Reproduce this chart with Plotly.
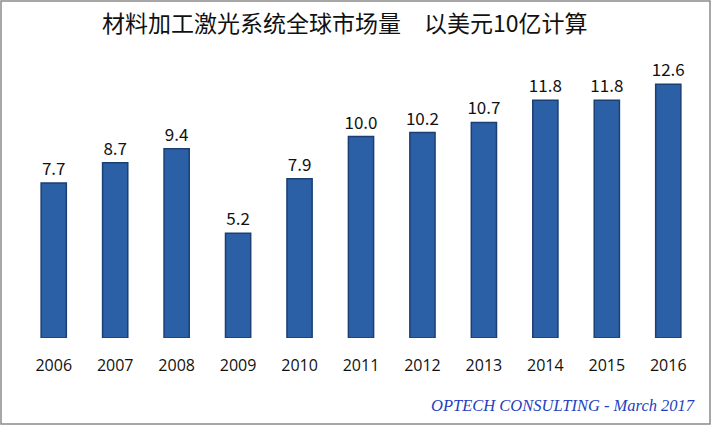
import plotly.graph_objects as go

years = ["2006","2007","2008","2009","2010","2011","2012","2013","2014","2015","2016"]
values = [7.7, 8.7, 9.4, 5.2, 7.9, 10.0, 10.2, 10.7, 11.8, 11.8, 12.6]
title = "材料加工激光系统全球市场量　以美元10亿计算"
source = "OPTECH CONSULTING - March 2017"

fig = go.Figure(go.Bar(
    x=years, y=values, width=0.41,
    marker=dict(color="#2C60A6", line=dict(color="#1B3F73", width=1.5)),
    text=[f"{v:.1f}" for v in values], textposition="outside",
    textfont=dict(size=17, color="#111", family="Noto Sans CJK SC"),
    cliponaxis=False,
))
fig.update_layout(
    width=712, height=426,
    margin=dict(l=23, r=13, t=60, b=88),
    plot_bgcolor="white", paper_bgcolor="white",
    showlegend=False,
    uniformtext=dict(minsize=17, mode="show"),
    xaxis=dict(showline=False, ticks="", showgrid=False,
               tickfont=dict(size=16, color="#111", family="Open Sans"), ticklabelstandoff=16),
    yaxis=dict(visible=False, range=[0, 13.8]),
    shapes=[dict(type="rect", xref="paper", yref="paper", x0=-22/676, x1=1+11/676,
                 y0=-86/278, y1=1+59/278, line=dict(color="#8a8a8a", width=1.5))],
    annotations=[
        dict(text=title, xref="paper", yref="paper", x=(345-23)/676, y=1+38/278, showarrow=False,
             font=dict(size=23, color="#111", family="Noto Sans CJK SC"), xanchor="center", yanchor="middle"),
        dict(text=f"<i>{source}</i>", xref="paper", yref="paper", x=1-2/676, y=-67/278, showarrow=False,
             font=dict(size=16.5, color="#1F3FBF", family="Liberation Serif"), xanchor="right", yanchor="middle"),
    ],
)
fig.write_html("out.html", config=dict(displayModeBar=False))
with open("out.html", encoding="utf-8") as f:
    html = f.read()
html = html.replace("<head>", "<head><style>body{margin:0}</style>", 1)
with open("out.html", "w", encoding="utf-8") as f:
    f.write(html)
